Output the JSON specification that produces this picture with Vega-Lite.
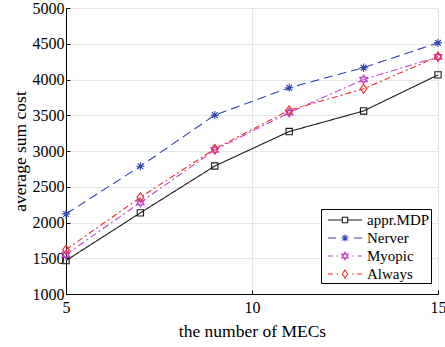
{
  "$schema": "https://vega.github.io/schema/vega-lite/v6.json",
  "width": 372,
  "height": 286,
  "autosize": "none",
  "padding": {"left": 66, "top": 8, "right": 7, "bottom": 53},
  "background": "white",
  "config": {
    "font": "Liberation Serif",
    "view": {"stroke": null},
    "axis": {
      "labelFont": "Liberation Serif",
      "titleFont": "Liberation Serif",
      "labelColor": "black",
      "titleColor": "black",
      "labelFontSize": 16,
      "titleFontSize": 17.5,
      "titleFontWeight": "normal",
      "labelFontWeight": "normal",
      "domainColor": "black",
      "domainWidth": 1,
      "tickColor": "black",
      "tickSize": -4,
      "gridColor": "#e6e6e6",
      "gridWidth": 1
    },
    "legend": {"labelFont": "Liberation Serif"}
  },
  "data": {
    "values": [
      {"n": 5, "cost": 1468, "s": "appr.MDP"},
      {"n": 7, "cost": 2135, "s": "appr.MDP"},
      {"n": 9, "cost": 2790, "s": "appr.MDP"},
      {"n": 11, "cost": 3272, "s": "appr.MDP"},
      {"n": 13, "cost": 3560, "s": "appr.MDP"},
      {"n": 15, "cost": 4064, "s": "appr.MDP"},
      {"n": 5, "cost": 2120, "s": "Nerver"},
      {"n": 7, "cost": 2787, "s": "Nerver"},
      {"n": 9, "cost": 3502, "s": "Nerver"},
      {"n": 11, "cost": 3885, "s": "Nerver"},
      {"n": 13, "cost": 4166, "s": "Nerver"},
      {"n": 15, "cost": 4512, "s": "Nerver"},
      {"n": 5, "cost": 1551, "s": "Myopic"},
      {"n": 7, "cost": 2280, "s": "Myopic"},
      {"n": 9, "cost": 3015, "s": "Myopic"},
      {"n": 11, "cost": 3537, "s": "Myopic"},
      {"n": 13, "cost": 4000, "s": "Myopic"},
      {"n": 15, "cost": 4317, "s": "Myopic"},
      {"n": 5, "cost": 1620, "s": "Always"},
      {"n": 7, "cost": 2352, "s": "Always"},
      {"n": 9, "cost": 3030, "s": "Always"},
      {"n": 11, "cost": 3570, "s": "Always"},
      {"n": 13, "cost": 3870, "s": "Always"},
      {"n": 15, "cost": 4320, "s": "Always"}
    ]
  },
  "encoding": {
    "x": {
      "field": "n",
      "type": "quantitative",
      "scale": {"domain": [5, 15], "nice": false},
      "axis": {
        "title": "the number of MECs",
        "values": [5, 10, 15],
        "format": "d",
        "labelPadding": 9,
        "titlePadding": 7,
        "labelFlush": false
      }
    },
    "y": {
      "field": "cost",
      "type": "quantitative",
      "scale": {"domain": [1000, 5000], "nice": false, "zero": false},
      "axis": {
        "title": "average sum cost",
        "values": [1000, 1500, 2000, 2500, 3000, 3500, 4000, 4500, 5000],
        "format": "d",
        "labelPadding": 6,
        "titlePadding": 3,
        "labelFlush": false
      }
    }
  },
  "layer": [
    {
      "mark": {"type": "line", "strokeWidth": 1.1},
      "encoding": {
        "color": {
          "field": "s",
          "type": "nominal",
          "scale": {
            "domain": ["appr.MDP", "Nerver", "Myopic", "Always"],
            "range": ["#1a1a1a", "#3346b3", "#c445c6", "#ec2f2b"]
          },
          "legend": null
        },
        "strokeDash": {
          "field": "s",
          "type": "nominal",
          "scale": {
            "domain": ["appr.MDP", "Nerver", "Myopic", "Always"],
            "range": [[1, 0], [9, 5], [7, 3, 2, 3], [6, 3, 2, 3]]
          },
          "legend": null
        }
      }
    },
    {
      "mark": {"type": "point", "filled": false, "size": 81, "strokeWidth": 1.1, "opacity": 1},
      "encoding": {
        "color": {
          "field": "s",
          "type": "nominal",
          "legend": null
        },
        "shape": {
          "field": "s",
          "type": "nominal",
          "scale": {
            "domain": ["appr.MDP", "Nerver", "Myopic", "Always"],
            "range": [
              "M-0.7,-0.7H0.7V0.7H-0.7Z",
              "M0,-0.9V0.9M-0.9,0H0.9M-0.64,-0.64L0.64,0.64M-0.64,0.64L0.64,-0.64",
              "M0,-1L0.866,0.5L-0.866,0.5ZM0,1L0.866,-0.5L-0.866,-0.5Z",
              "M0,-1L0.75,0L0,1L-0.75,0Z"
            ]
          },
          "legend": null
        }
      }
    },
    {
      "mark": {"type": "point", "filled": false, "size": 81, "opacity": 0, "strokeWidth": 1.1},
      "encoding": {
        "stroke": {
          "field": "s",
          "type": "nominal",
          "scale": {
            "domain": ["appr.MDP", "Nerver", "Myopic", "Always"],
            "range": ["#1a1a1a", "#3346b3", "#c445c6", "#ec2f2b"]
          },
          "legend": {
            "title": null,
            "orient": "none",
            "legendX": 255,
            "legendY": 201,
            "strokeColor": "black",
            "fillColor": "white",
            "padding": 1,
            "symbolSize": 324,
            "symbolOffset": 13,
            "labelOffset": 12,
            "rowPadding": 0,
            "symbolStrokeWidth": 1.1,
            "symbolOpacity": 1,
            "labelFont": "Liberation Serif",
            "labelFontSize": 15,
            "labelColor": "black",
            "encode": {
              "symbols": {"update": {"opacity": {"value": 1}}}
            }
          }
        },
        "shape": {
          "field": "s",
          "type": "nominal",
          "scale": {
            "domain": ["appr.MDP", "Nerver", "Myopic", "Always"],
            "range": [
              "M-1.9,0H-0.3M0.3,0H1.9M-0.3,-0.3H0.3V0.3H-0.3Z",
              "M-1.9,0H-1.0M1.0,0H1.9M0,-0.4V0.4M-0.4,0H0.4M-0.28,-0.28L0.28,0.28M-0.28,0.28L0.28,-0.28",
              "M-1.9,0H-1.35M-0.95,0H-0.8M0.8,0H0.95M1.35,0H1.9M0,-0.42L0.364,0.21L-0.364,0.21ZM0,0.42L0.364,-0.21L-0.364,-0.21Z",
              "M-1.9,0H-1.35M-0.95,0H-0.8M0.8,0H0.95M1.35,0H1.9M0,-0.45L0.3,0L0,0.45L-0.3,0Z"
            ]
          },
          "legend": {
            "title": null,
            "orient": "none",
            "legendX": 255,
            "legendY": 201,
            "strokeColor": "black",
            "fillColor": "white",
            "padding": 1,
            "symbolSize": 324,
            "symbolOffset": 13,
            "labelOffset": 12,
            "rowPadding": 0,
            "symbolStrokeWidth": 1.1,
            "symbolOpacity": 1,
            "labelFont": "Liberation Serif",
            "labelFontSize": 15,
            "labelColor": "black",
            "encode": {
              "symbols": {"update": {"opacity": {"value": 1}}}
            }
          }
        }
      }
    }
  ],
  "resolve": {"scale": {"shape": "independent", "stroke": "independent"}}
}
